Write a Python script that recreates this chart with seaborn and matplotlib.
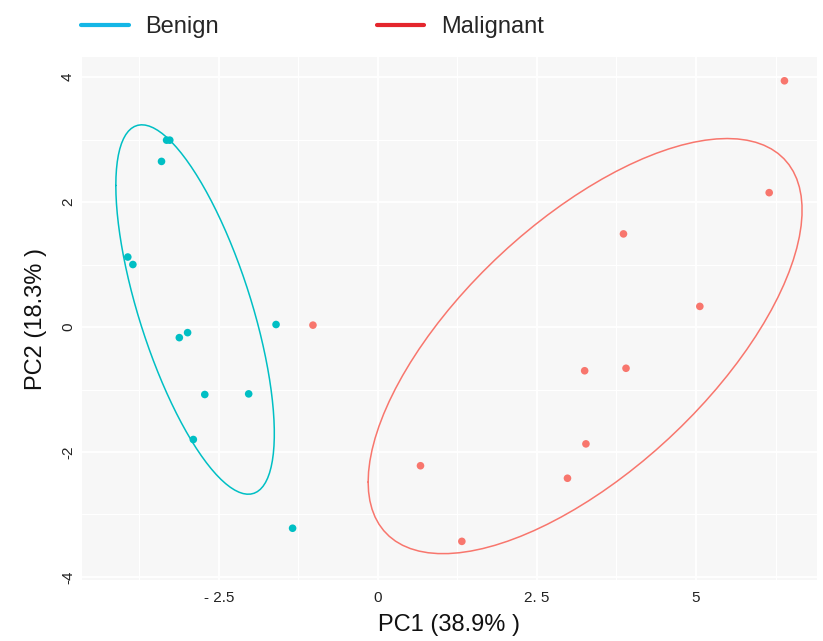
import numpy as np
import pandas as pd
import matplotlib
matplotlib.use("Agg")
import matplotlib.pyplot as plt
from matplotlib.lines import Line2D
import seaborn as sns

# ---- data ----
benign_pc1 = [-3.32, -3.27, -3.40, -3.93, -3.85, -1.60, -3.12, -2.99, -2.72, -2.03, -2.90, -1.34]
benign_pc2 = [2.99, 2.99, 2.65, 1.12, 1.00, 0.04, -0.17, -0.09, -1.08, -1.07, -1.80, -3.22]
malig_pc1 = [6.39, 6.15, 3.86, 5.06, 3.25, 3.90, 3.27, 2.98, 0.67, 1.32, -1.02]
malig_pc2 = [3.94, 2.15, 1.49, 0.33, -0.70, -0.66, -1.87, -2.42, -2.22, -3.43, 0.03]
groups = ["Benign", "Malignant"]
x_ticks = [-2.5, 0, 2.5, 5]
x_ticklabels = ["- 2.5", "0", "2. 5", "5"]
y_ticks = [-4, -2, 0, 2, 4]
y_ticklabels = ["-4", "-2", "0", "2", "4"]
ellipse_prob = 0.68

df = pd.DataFrame({
    "PC1": benign_pc1 + malig_pc1,
    "PC2": benign_pc2 + malig_pc2,
    "group": [groups[0]] * len(benign_pc1) + [groups[1]] * len(malig_pc1),
})

pt_colors = {"Benign": "#00BFC4", "Malignant": "#F8766D"}
legend_colors = {"Benign": "#14B6E6", "Malignant": "#E4262D"}


def group_ellipse(xs, ys, prob=0.68):
    # ggbiplot-style normal ellipse: sqrt(qchisq(prob, 2)) * chol(cov) + mean
    data = np.column_stack([xs, ys])
    sigma = np.cov(data, rowvar=False)
    mu = data.mean(axis=0)
    ed = np.sqrt(-2.0 * np.log(1.0 - prob))
    chol = np.linalg.cholesky(sigma).T
    theta = np.linspace(-np.pi, np.pi, 100)
    circle = np.column_stack([np.cos(theta), np.sin(theta)])
    ell = circle @ chol * ed + mu
    return ell[:, 0], ell[:, 1]


sns.set_theme(style="white")
plt.rcParams["font.family"] = ["Liberation Sans", "DejaVu Sans"]

fig = plt.figure(figsize=(8.23, 6.41), dpi=100)
ax = fig.add_axes([0.0996, 0.095, 0.893, 0.816])
ax.set_facecolor("#F7F7F7")

# grid: minor + major white lines
for v in [-3.75, -1.25, 1.25, 3.75, 6.25]:
    ax.axvline(v, color="white", lw=0.8, zorder=0)
for v in [-3, -1, 1, 3]:
    ax.axhline(v, color="white", lw=0.8, zorder=0)
for v in x_ticks:
    ax.axvline(v, color="white", lw=1.3, zorder=0)
for v in y_ticks:
    ax.axhline(v, color="white", lw=1.3, zorder=0)

for g in groups:
    sub = df[df.group == g]
    ex, ey = group_ellipse(sub.PC1.values, sub.PC2.values, ellipse_prob)
    ax.plot(ex, ey, color=pt_colors[g], lw=1.1, zorder=2)

sns.scatterplot(data=df, x="PC1", y="PC2", hue="group", palette=pt_colors,
                s=30, edgecolor="none", legend=False, ax=ax, zorder=3)

ax.set_xlim(-4.65, 6.9)
ax.set_ylim(-4.05, 4.32)
ax.set_xticks(x_ticks)
ax.set_xticklabels(x_ticklabels, fontsize=11, color="#222222")
ax.set_yticks(y_ticks)
ax.set_yticklabels(y_ticklabels, fontsize=11, color="#222222", rotation=90, va="center")
ax.tick_params(axis="x", length=0, pad=8)
ax.tick_params(axis="y", length=0, pad=5)
ax.set_xlabel("PC1 (38.9% )", fontsize=17, color="#111111", labelpad=6)
ax.set_ylabel("PC2 (18.3% )", fontsize=17, color="#111111", labelpad=10)
for s in ax.spines.values():
    s.set_visible(False)

handles = [Line2D([0], [0], color=legend_colors[g], lw=3) for g in groups]
fig.legend(handles, groups, loc="center left", bbox_to_anchor=(0.073, 0.958),
           ncol=2, frameon=False, fontsize=17, handlelength=2.0, handletextpad=0.7,
           columnspacing=6.7)

fig.savefig("out.png", dpi=100)
